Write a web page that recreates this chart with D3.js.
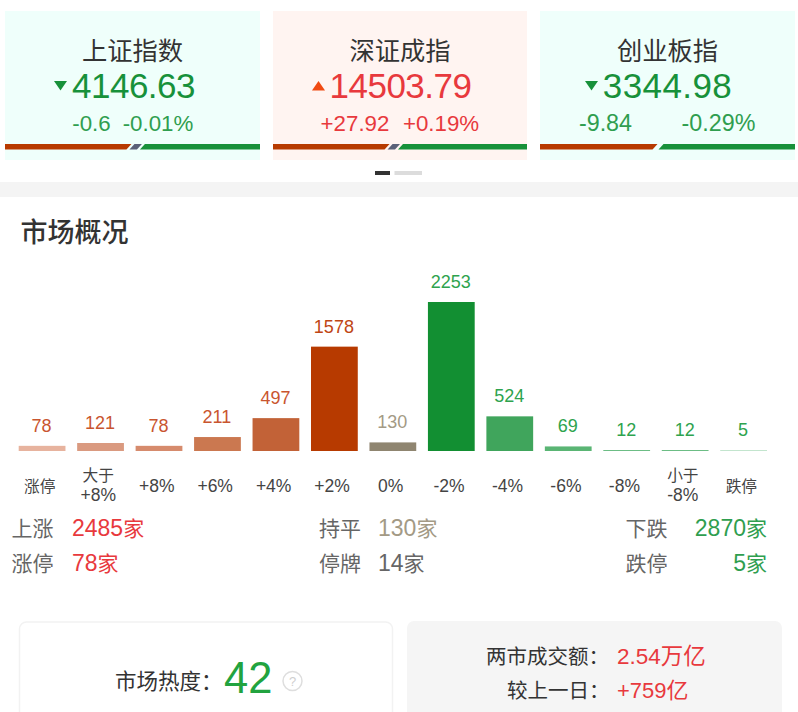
<!DOCTYPE html>
<html><head><meta charset="utf-8">
<script src="https://cdn.jsdelivr.net/npm/d3@7/dist/d3.min.js"></script>
<style>html,body{margin:0;padding:0;background:#fff;overflow:hidden}svg{display:block}
text{font-family:"Liberation Sans","Noto Sans CJK SC",sans-serif}</style></head>
<body><svg id="c" width="798" height="712"></svg>
<script>
// Data
const indexNames=["上证指数","深证成指","创业板指"];
const indexValues=["4146.63","14503.79","3344.98"];
const indexChanges=["-0.6","+27.92","-9.84"];
const indexPercents=["-0.01%","+0.19%","-0.29%"];
const indexBreadth=[[0.49,0.045,0.465],[0.453,0.045,0.502],[0.455,0,0.545]];
const bucketLabels=["涨停","大于\n+8%","+8%","+6%","+4%","+2%","0%","-2%","-4%","-6%","-8%","小于\n-8%","跌停"];
const bucketCounts=[78,121,78,211,497,1578,130,2253,524,69,12,12,5];
const barColors=["#e7b39e","#da9a80","#d68b6d","#cb7850","#c26237","#b73a00","#8f8570","#128f32","#40a55c","#5ab574","#6cbd85","#6cbd85","#c3e5ce"];
const labelColors=["#c9552f","#c9552f","#c9552f","#c9552f","#c9552f","#bf4514","#a39a85","#2ea34e","#2ea34e","#2ea34e","#2ea34e","#2ea34e","#2ea34e"];

const svg=d3.select("#c");
const GREEN="#17913a",SUB_GREEN="#2f9e4f",RED="#e8393d",ORANGE="#f04a12";
const cards=[{x:5,w:255,bg:"#effffb",dn:true,tx:60.5,vx:133.5,c1:91.5,c2:158,ls:-0.5,sf:22.3},
             {x:273,w:254,bg:"#fff4f1",dn:false,tx:318.5,vx:400.5,c1:355,c2:441,ls:-0.5,sf:22.3},
             {x:540,w:255,bg:"#effffb",dn:true,tx:591.5,vx:667.5,c1:605.5,c2:718.5,ls:0.4,sf:23.3}];
svg.append("rect").attr("x",0).attr("y",182).attr("width",798).attr("height",15).attr("fill","#f4f4f4");

// Splits text so latin runs can be sized apart from CJK runs
function mixed(sel,txt,latinSize){
  txt.split(/([0-9+\-.%]+)/).filter(s=>s).forEach(s=>{
    const sp=sel.append("tspan").text(s);
    if(/^[0-9+\-.%]+$/.test(s)) sp.attr("font-size",latinSize);
  });
  return sel;
}

cards.forEach((c,i)=>{
  const g=svg.append("g");
  g.append("rect").attr("x",c.x).attr("y",11).attr("width",c.w).attr("height",149).attr("fill",c.bg);
  const col=c.dn?GREEN:RED, sub=c.dn?SUB_GREEN:RED;
  g.append("text").attr("x",c.x+c.w/2).attr("y",59.5).attr("text-anchor","middle").attr("font-size",25.3).attr("fill","#333").text(indexNames[i]);
  g.append("text").attr("x",c.vx).attr("y",98).attr("text-anchor","middle").attr("font-size",35).attr("letter-spacing",c.ls).attr("fill",col).text(indexValues[i]);
  const tri=c.dn?[[-6.5,81],[6.5,81],[0,90.5]]:[[-6.5,90.5],[6.5,90.5],[0,81]];
  g.append("polygon").attr("points",tri.map(p=>[c.tx+p[0],p[1]].join(",")).join(" ")).attr("fill",c.dn?GREEN:ORANGE);
  g.append("text").attr("x",c.c1).attr("y",130.5).attr("text-anchor","middle").attr("font-size",c.sf).attr("fill",sub).text(indexChanges[i]);
  g.append("text").attr("x",c.c2).attr("y",130.5).attr("text-anchor","middle").attr("font-size",c.sf).attr("fill",sub).text(indexPercents[i]);
  const sx=d3.scaleLinear().domain([0,1]).range([c.x,c.x+c.w]);
  const [u,f]=indexBreadth[i];
  const t=144,b=149.5,s=2.5;
  const a=sx(u),e=sx(u+f);
  g.append("polygon").attr("points",`${c.x},${t} ${a+s-1},${t} ${a-s-1},${b} ${c.x},${b}`).attr("fill","#b73a00");
  if(f>0) g.append("polygon").attr("points",`${a+s+2},${t} ${e+s-2},${t} ${e-s-2},${b} ${a-s+2},${b}`).attr("fill","#5a6078");
  const gs=f>0?e+1:e+5;
  g.append("polygon").attr("points",`${gs+s},${t} ${c.x+c.w},${t} ${c.x+c.w},${b} ${gs-s},${b}`).attr("fill",GREEN);
});
svg.append("rect").attr("x",375).attr("y",171).attr("width",15).attr("height",4).attr("fill","#333");
svg.append("rect").attr("x",394.5).attr("y",171).attr("width",27.5).attr("height",4).attr("fill","#dcdcdc");

svg.append("text").attr("x",20.5).attr("y",241.5).attr("font-size",27).attr("font-weight",500).attr("fill","#333").text("市场概况");

// Histogram
const x=d3.scaleBand().domain(bucketLabels).range([12.85,772.85]).paddingInner(0.2).paddingOuter(0.1);
const y=d3.scaleLinear().domain([0,2253]).range([451,302]);
svg.append("g").selectAll("rect").data(bucketCounts).join("rect")
  .attr("x",(d,i)=>x(bucketLabels[i])).attr("width",x.bandwidth())
  .attr("y",d=>Math.min(y(d),450)).attr("height",d=>Math.max(451-y(d),1))
  .attr("fill",(d,i)=>barColors[i]);
svg.append("g").selectAll("text").data(bucketCounts).join("text")
  .attr("x",(d,i)=>x(bucketLabels[i])+x.bandwidth()/2-0.5)
  .attr("y",d=>Math.min(y(d),450)-14).attr("text-anchor","middle").attr("font-size",18)
  .attr("fill",(d,i)=>labelColors[i]).text(d=>d);

const axis=svg.append("g").call(d3.axisBottom(x).tickSize(0).tickFormat(""));
axis.attr("transform","translate(-2.3,451)");
axis.select(".domain").remove();
axis.selectAll(".tick text").each(function(d){
  const t=d3.select(this),parts=d.split("\n");
  t.attr("y",null).attr("dy",null).attr("font-size",15.7).attr("font-family",null).attr("fill","#444").attr("text-anchor","middle");
  if(parts.length===1){t.attr("y",41);mixed(t,parts[0],17.5);}
  else{t.attr("y",0);parts.forEach((p,k)=>{const sp=t.append("tspan").attr("x",0).attr("y",k?50:29.5).text(p);if(k)sp.attr("font-size",17.5);});}
});

// Stats
const F=21,GRAY="#666";
function st(xp,yp,txt,col,anchor){mixed(svg.append("text").attr("x",xp).attr("y",yp).attr("font-size",F).attr("fill",col).attr("text-anchor",anchor||"start"),txt,23);}
st(11.5,536,"上涨",GRAY);st(72,536,"2485家",RED);
st(11.5,571,"涨停",GRAY);st(72,571,"78家",RED);
st(319,536,"持平",GRAY);st(378,536,"130家","#a39a85");
st(319,571,"停牌",GRAY);st(378,571,"14家",GRAY);
st(625.5,536,"下跌",GRAY);st(767,536,"2870家",SUB_GREEN,"end");
st(625.5,571,"跌停",GRAY);st(767,571,"5家",SUB_GREEN,"end");

// Bottom panels
svg.append("rect").attr("x",19.5).attr("y",622).attr("width",373).attr("height",110).attr("rx",7).attr("fill","#fff").attr("stroke","#f2f2f2").attr("stroke-width",1.5);
svg.append("rect").attr("x",407).attr("y",621).attr("width",375).attr("height",110).attr("rx",7).attr("fill","#f5f5f5");
svg.append("text").attr("x",115).attr("y",689).attr("font-size",21.5).attr("fill","#333").text("市场热度：");
svg.append("text").attr("x",224).attr("y",692.5).attr("font-size",43.5).attr("fill","#22a33f").text("42");
svg.append("circle").attr("cx",292.5).attr("cy",681).attr("r",9.5).attr("fill","none").attr("stroke","#dedede").attr("stroke-width",1.5);
svg.append("text").attr("x",292.5).attr("y",686).attr("text-anchor","middle").attr("font-size",13).attr("fill","#cfcfcf").text("?");
svg.append("text").attr("x",486).attr("y",664).attr("font-size",20.5).attr("fill","#333").text("两市成交额：");
svg.append("text").attr("x",617).attr("y",664).attr("font-size",22.5).attr("fill",RED).text("2.54万亿");
svg.append("text").attr("x",507).attr("y",698).attr("font-size",20.5).attr("fill","#333").text("较上一日：");
svg.append("text").attr("x",617).attr("y",698).attr("font-size",22).attr("fill",RED).text("+759亿");
</script></body></html>
